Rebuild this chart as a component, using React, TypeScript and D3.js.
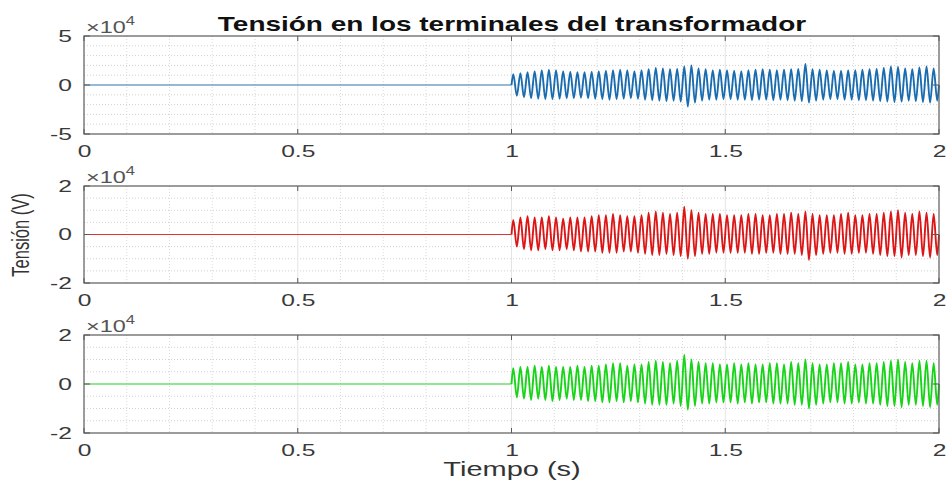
import { useEffect, useRef } from "react";
import * as d3 from "d3";

// tiempo (s) y ticks
const xDominio = [0, 2];
const xTicks = [0, 0.5, 1, 1.5, 2];
const tiempoFalla = 1; // la tensión aparece en t = 1 s
const ciclosPorSegundo = 60;

// valores en unidades de 1e4 V: máximo y mínimo de cada ciclo después de t = 1 s
const picosFaseA = [
  1.1, 1.2, 1.3, 1.4, 1.5, 1.55, 1.5, 1.4, 1.35, 1.3,
  1.3, 1.35, 1.4, 1.45, 1.5, 1.55, 1.5, 1.4, 1.5, 1.6,
  1.75, 1.7, 1.6, 1.65, 1.9, 2.0, 1.7, 1.6, 1.5, 1.55,
  1.5, 1.45, 1.4, 1.5, 1.55, 1.6, 1.55, 1.5, 1.55, 1.6,
  1.65, 2.15, 1.6, 1.55, 1.5, 1.45, 1.45, 1.5, 1.5, 1.55,
  1.6, 1.65, 1.75, 1.9, 1.85, 1.7, 1.6, 1.8, 1.9, 1.7,
];
const vallesFaseA = [
  -1.1, -1.25, -1.35, -1.4, -1.45, -1.45, -1.4, -1.35, -1.35, -1.3,
  -1.35, -1.4, -1.45, -1.5, -1.45, -1.4, -1.35, -1.4, -1.5, -1.55,
  -1.6, -1.65, -1.6, -1.7, -2.2, -1.8, -1.6, -1.5, -1.5, -1.45,
  -1.45, -1.5, -1.5, -1.55, -1.5, -1.5, -1.55, -1.5, -1.55, -1.6,
  -1.65, -1.8, -1.6, -1.5, -1.45, -1.45, -1.5, -1.5, -1.55, -1.55,
  -1.6, -1.65, -1.7, -1.75, -1.7, -1.6, -1.65, -1.75, -1.8, -1.6,
];
const picosFaseB = [
  0.6, 0.7, 0.75, 0.7, 0.7, 0.75, 0.7, 0.65, 0.7, 0.7,
  0.7, 0.75, 0.8, 0.8, 0.85, 0.8, 0.75, 0.75, 0.8, 0.9,
  0.95, 0.9, 0.85, 0.9, 1.15, 1.0, 0.9, 0.85, 0.85, 0.85,
  0.8, 0.8, 0.8, 0.85, 0.85, 0.8, 0.8, 0.85, 0.85, 0.9,
  0.85, 0.95, 0.85, 0.8, 0.8, 0.8, 0.85, 0.9, 0.8, 0.8,
  0.85, 0.85, 0.9, 0.95, 1.0, 0.9, 0.85, 0.95, 0.9, 0.85,
];
const vallesFaseB = [
  -0.5, -0.6, -0.65, -0.65, -0.6, -0.65, -0.65, -0.6, -0.65, -0.7,
  -0.7, -0.7, -0.75, -0.75, -0.75, -0.7, -0.7, -0.75, -0.8, -0.85,
  -0.85, -0.8, -0.85, -0.9, -1.0, -0.9, -0.8, -0.8, -0.75, -0.75,
  -0.75, -0.75, -0.75, -0.8, -0.8, -0.75, -0.75, -0.8, -0.8, -0.8,
  -0.85, -1.05, -0.85, -0.8, -0.75, -0.75, -0.8, -0.8, -0.75, -0.75,
  -0.8, -0.85, -0.9, -0.9, -0.95, -0.85, -0.85, -0.9, -0.95, -0.85,
];
const picosFaseC = [
  0.65, 0.7, 0.7, 0.75, 0.7, 0.75, 0.7, 0.7, 0.7, 0.75,
  0.7, 0.75, 0.75, 0.8, 0.85, 0.85, 0.75, 0.8, 0.8, 0.9,
  0.95, 0.9, 0.85, 0.95, 1.2, 1.0, 0.9, 0.85, 0.85, 0.8,
  0.8, 0.85, 0.8, 0.85, 0.8, 0.8, 0.85, 0.85, 0.8, 0.9,
  0.85, 1.0, 0.85, 0.8, 0.8, 0.85, 0.85, 0.9, 0.8, 0.8,
  0.85, 0.85, 0.9, 0.95, 1.0, 0.9, 0.85, 0.95, 0.95, 0.85,
];
const vallesFaseC = [
  -0.55, -0.6, -0.65, -0.6, -0.65, -0.7, -0.65, -0.6, -0.65, -0.65,
  -0.7, -0.7, -0.75, -0.75, -0.7, -0.75, -0.7, -0.75, -0.8, -0.85,
  -0.85, -0.85, -0.8, -0.9, -1.05, -0.9, -0.8, -0.8, -0.75, -0.75,
  -0.75, -0.8, -0.75, -0.8, -0.75, -0.75, -0.8, -0.8, -0.8, -0.85,
  -0.85, -1.0, -0.85, -0.8, -0.75, -0.75, -0.8, -0.8, -0.75, -0.8,
  -0.8, -0.85, -0.9, -0.9, -0.95, -0.85, -0.85, -0.9, -0.95, -0.85,
];

const yTicksFaseA = [-5, 0, 5];
const yTicksFaseBC = [-2, 0, 2];

const SX = 1.45; // la figura original está estirada a lo ancho
const FUENTE = "'Liberation Sans', Arial, Helvetica, sans-serif";

function App() {
  const svgRef = useRef<SVGSVGElement>(null);

  useEffect(() => {
    const svg = d3.select(svgRef.current);
    svg.selectAll("*").remove();

    const paneles = [
      { top: 36, bottom: 134, ticks: yTicksFaseA, paso: 1, picos: picosFaseA, valles: vallesFaseA, color: "#1a6cb0" },
      { top: 186, bottom: 283, ticks: yTicksFaseBC, paso: 0.5, picos: picosFaseB, valles: vallesFaseB, color: "#dc1616" },
      { top: 335, bottom: 433, ticks: yTicksFaseBC, paso: 0.5, picos: picosFaseC, valles: vallesFaseC, color: "#18d418" },
    ];
    const left = 84;
    const right = 939;

    const x = d3.scaleLinear().domain(xDominio).range([left, right]);

    paneles.forEach((p) => {
      const dom = [p.ticks[0], p.ticks[p.ticks.length - 1]];
      const y = d3.scaleLinear().domain(dom).range([p.bottom, p.top]);
      const g = svg.append("g");

      // rejilla menor
      const menorX = d3.range(0.1, 2, 0.1).filter((v) => Math.abs((v * 2) % 1) > 1e-6);
      g.selectAll(".gx")
        .data(menorX)
        .enter()
        .append("line")
        .attr("x1", (d) => x(d))
        .attr("x2", (d) => x(d))
        .attr("y1", p.top)
        .attr("y2", p.bottom)
        .attr("stroke", "#dadada")
        .attr("stroke-dasharray", "1,2");
      const menorY = d3.range(dom[0] + p.paso, dom[1], p.paso).filter((v) => Math.abs(v) > 1e-6);
      g.selectAll(".gy")
        .data(menorY)
        .enter()
        .append("line")
        .attr("x1", left)
        .attr("x2", right)
        .attr("y1", (d) => y(d))
        .attr("y2", (d) => y(d))
        .attr("stroke", "#d2d2d2")
        .attr("stroke-dasharray", "1,2");

      // rejilla mayor
      g.selectAll(".mx")
        .data(xTicks.slice(1, -1))
        .enter()
        .append("line")
        .attr("x1", (d) => x(d))
        .attr("x2", (d) => x(d))
        .attr("y1", p.top)
        .attr("y2", p.bottom)
        .attr("stroke", "#e4e4e4");
      g.append("line")
        .attr("x1", left)
        .attr("x2", right)
        .attr("y1", y(0))
        .attr("y2", y(0))
        .attr("stroke", "#e4e4e4");

      const linea = d3
        .line<[number, number]>()
        .x((d) => x(d[0]))
        .y((d) => y(d[1]))
        .curve(d3.curveMonotoneX);

      // tramo sin tensión (línea fina)
      const previo: [number, number][] = [
        [xDominio[0], 0],
        [tiempoFalla, 0],
      ];
      g.append("path")
        .datum(previo)
        .attr("d", linea)
        .attr("fill", "none")
        .attr("stroke", p.color)
        .attr("stroke-opacity", 0.85)
        .attr("stroke-width", 1.2);

      // oscilación
      const puntos: [number, number][] = [[tiempoFalla, 0]];
      p.picos.forEach((v, k) => {
        puntos.push([tiempoFalla + (k + 0.25) / ciclosPorSegundo, v]);
        puntos.push([tiempoFalla + (k + 0.75) / ciclosPorSegundo, p.valles[k]]);
      });
      puntos.push([xDominio[1], 0]);

      g.append("path")
        .datum(puntos)
        .attr("d", linea)
        .attr("fill", "none")
        .attr("stroke", p.color)
        .attr("stroke-width", 1.9);

      // marco
      g.append("rect")
        .attr("x", left)
        .attr("y", p.top)
        .attr("width", right - left)
        .attr("height", p.bottom - p.top)
        .attr("fill", "none")
        .attr("stroke", "#5a5a5a")
        .attr("stroke-width", 1.2);

      // marcas de ticks hacia dentro
      xTicks.forEach((t) => {
        g.append("line").attr("x1", x(t)).attr("x2", x(t)).attr("y1", p.bottom).attr("y2", p.bottom - 5).attr("stroke", "#5a5a5a");
        g.append("line").attr("x1", x(t)).attr("x2", x(t)).attr("y1", p.top).attr("y2", p.top + 5).attr("stroke", "#5a5a5a");
      });
      p.ticks.forEach((t) => {
        g.append("line").attr("x1", left).attr("x2", left + 6).attr("y1", y(t)).attr("y2", y(t)).attr("stroke", "#5a5a5a");
        g.append("line").attr("x1", right).attr("x2", right - 6).attr("y1", y(t)).attr("y2", y(t)).attr("stroke", "#5a5a5a");
      });

      // ejes (solo etiquetas)
      const ejeX = g
        .append("g")
        .attr("transform", `translate(0,${p.bottom})`)
        .call(d3.axisBottom(x).tickValues(xTicks).tickSize(0).tickPadding(11).tickFormat((d) => String(d)));
      ejeX.select(".domain").remove();
      ejeX
        .selectAll("text")
        .attr("transform", `scale(${SX},1)`)
        .attr("font-size", 17)
        .attr("font-family", FUENTE)
        .attr("fill", "#3a3a3a");

      const ejeY = g
        .append("g")
        .attr("transform", `translate(${left},0)`)
        .call(d3.axisLeft(y).tickValues(p.ticks).tickSize(0).tickPadding(8.3).tickFormat((d) => String(d)));
      ejeY.select(".domain").remove();
      ejeY
        .selectAll("text")
        .attr("transform", `scale(${SX},1)`)
        .attr("font-size", 17)
        .attr("font-family", FUENTE)
        .attr("fill", "#3a3a3a");

      // multiplicador ×10^4
      const mult = g
        .append("text")
        .attr("transform", `translate(86,${p.top - 3}) scale(${SX * 0.95},1)`)
        .attr("font-size", 17)
        .attr("font-family", FUENTE)
        .attr("fill", "#555");
      mult.append("tspan").text("\u00d710");
      mult.append("tspan").attr("font-size", 12).attr("dy", -8).text("4");
    });

    // título y etiquetas
    svg
      .append("text")
      .attr("transform", `translate(512,31) scale(${SX},1)`)
      .attr("text-anchor", "middle")
      .attr("font-size", 19.3)
      .attr("font-weight", "bold")
      .attr("font-family", FUENTE)
      .attr("fill", "#111")
      .text("Tensión en los terminales del transformador");

    svg
      .append("text")
      .attr("transform", `translate(512,476) scale(${SX},1)`)
      .attr("text-anchor", "middle")
      .attr("font-size", 20)
      .attr("font-family", FUENTE)
      .attr("fill", "#333")
      .text("Tiempo (s)");

    svg
      .append("text")
      .attr("transform", `translate(29,235) rotate(-90) scale(1,${SX})`)
      .attr("text-anchor", "middle")
      .attr("font-size", 16.5)
      .attr("font-family", FUENTE)
      .attr("fill", "#333")
      .text("Tensión (V)");
  }, []);

  return (
    <svg
      ref={svgRef}
      width={948}
      height={482}
      style={{ position: "absolute", left: 0, top: 0, background: "#fff" }}
    />
  );
}

export default App;
